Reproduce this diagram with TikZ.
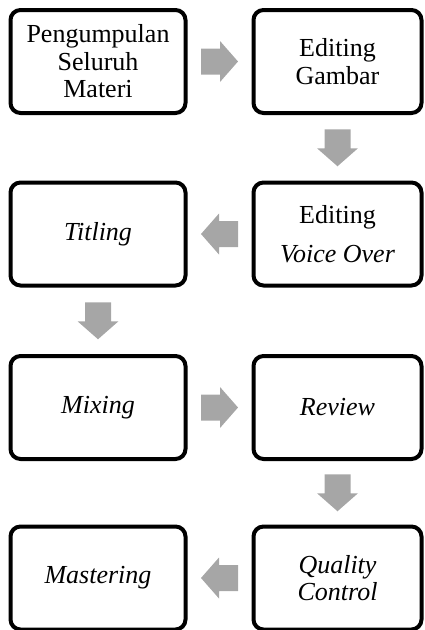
\documentclass[tikz,border=0pt]{standalone}
\usepackage{fontspec}
\setmainfont{Liberation Serif}
\usetikzlibrary{calc}
\definecolor{arrowgray}{HTML}{A6A6A6}
\tikzset{
  stepbox/.style={draw=black, line width=4pt, rounded corners=10pt, fill=white,
    minimum height=103pt, align=center, inner sep=0pt,
    font=\fontsize{26}{27.5}\selectfont},
  leftbox/.style={stepbox, minimum width=175pt},
  rightbox/.style={stepbox, minimum width=168pt},
  blockarrow/.pic={\fill[arrowgray] (-18.5,-13) -- (0.5,-13) -- (0.5,-20.5) -- (18.5,0) -- (0.5,20.5) -- (0.5,13) -- (-18.5,13) -- cycle;}
}
\begin{document}
\begin{tikzpicture}[x=1pt,y=1pt]
\useasboundingbox (0,0) rectangle (425,-630);
\node[leftbox]  (a) at (98,-61.5)   {Pengumpulan\\Seluruh\\Materi};
\node[rightbox] (b) at (337.5,-61.5) {Editing\\Gambar};
\node[rightbox] (c) at (337.5,-234)  {Editing\\[11pt]\textit{Voice Over}};
\node[leftbox]  (d) at (98,-234)    {\textit{Titling}};
\node[leftbox]  (e) at (98,-407.5)  {\textit{Mixing}};
\node[rightbox] (f) at (337.5,-407.5) {\textit{Review}};
\node[rightbox] (g) at (337.5,-578)  {\textit{Quality}\\\textit{Control}};
\node[leftbox]  (h) at (98,-578)    {\textit{Mastering}};
\coordinate (ab) at ($(a.east)!0.5!(b.west)$);
\coordinate (bc) at ($(b.south)!0.5!(c.north)$);
\coordinate (cd) at ($(c.west)!0.5!(d.east)$);
\coordinate (de) at ($(d.south)!0.5!(e.north)$);
\coordinate (ef) at ($(e.east)!0.5!(f.west)$);
\coordinate (fg) at ($(f.south)!0.5!(g.north)$);
\coordinate (gh) at ($(g.west)!0.5!(h.east)$);
\pic at (ab) {blockarrow};
\pic[rotate=-90] at (bc) {blockarrow};
\pic[rotate=180] at (cd) {blockarrow};
\pic[rotate=-90] at (de) {blockarrow};
\pic at (ef) {blockarrow};
\pic[rotate=-90] at (fg) {blockarrow};
\pic[rotate=180] at (gh) {blockarrow};
\end{tikzpicture}
\end{document}
